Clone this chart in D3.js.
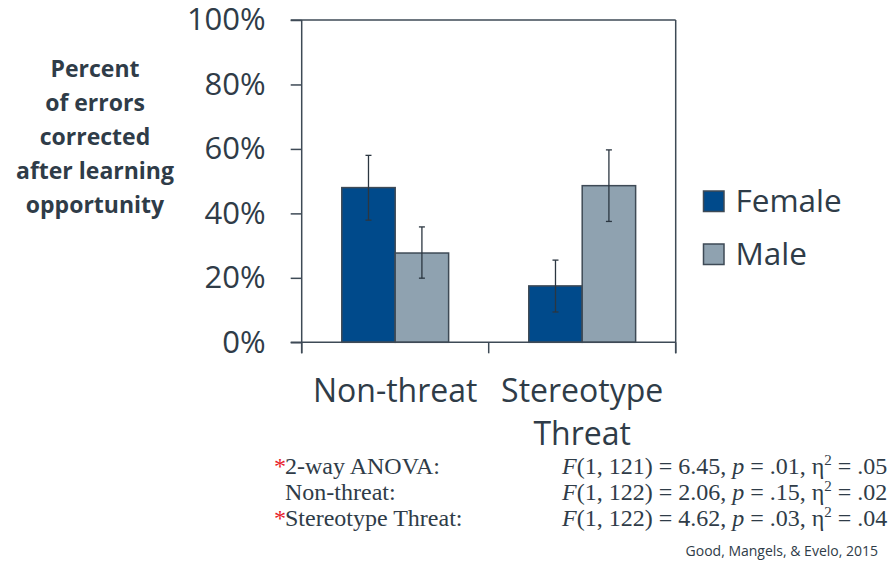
<!DOCTYPE html>
<html>
<head>
<meta charset="utf-8">
<script src="https://cdn.jsdelivr.net/npm/d3@7"></script>
<style>
  body { margin: 0; background: #fff; }
</style>
</head>
<body>
<div id="chart"></div>
<script>
// data
const conditions = ["Non-threat", "Stereotype Threat"];
const conditionLines = [["Non-threat"], ["Stereotype", "Threat"]];
const groups = ["Female", "Male"];
const female = [48.0, 17.5];
const male = [27.7, 48.6];
const femaleLow = [37.9, 9.4];
const femaleHigh = [58.0, 25.5];
const maleLow = [19.9, 37.5];
const maleHigh = [35.8, 59.7];
const yTicks = [0, 20, 40, 60, 80, 100];
const yTitle = ["Percent", "of errors", "corrected", "after learning", "opportunity"];
const statsLabels = [["*", "2-way ANOVA:"], ["", "Non-threat:"], ["*", "Stereotype Threat:"]];
const statsF = [["1, 121", "6.45", ".01", ".05"], ["1, 122", "2.06", ".15", ".02"], ["1, 122", "4.62", ".03", ".04"]];
const credit = "Good, Mangels, & Evelo, 2015";

const navy = "#004a8b";
const grey = "#8fa2b0";
const ink = "#2f3c48";
const axisCol = "#3e4a56";

const width = 893;
const height = 579;
const marginTop = 20;
const marginLeft = 301.7;
const plotRight = 675.7;
const plotBottom = 342.3;

const rows = conditions.map((c, i) => ({
  cond: c,
  bars: [
    {g: "Female", v: female[i], lo: femaleLow[i], hi: femaleHigh[i]},
    {g: "Male", v: male[i], lo: maleLow[i], hi: maleHigh[i]}
  ]
}));

const x0 = d3.scaleBand().domain(conditions).range([marginLeft, plotRight]).padding(0);
const x1 = d3.scaleBand().domain(groups).range([0, x0.bandwidth()]).paddingInner(0).paddingOuter(0.75);
const y = d3.scaleLinear().domain([0, 100]).range([plotBottom, marginTop]);
const color = d3.scaleOrdinal().domain(groups).range([navy, grey]);

const svg = d3.create("svg")
    .attr("width", width)
    .attr("height", height)
    .attr("viewBox", [0, 0, width, height]);

// frame: top and right edges
svg.append("line")
    .attr("x1", marginLeft - 11).attr("x2", plotRight)
    .attr("y1", y(100)).attr("y2", y(100))
    .attr("stroke", axisCol).attr("stroke-width", 1.5);
svg.append("line")
    .attr("x1", plotRight).attr("x2", plotRight)
    .attr("y1", y(100)).attr("y2", plotBottom + 11)
    .attr("stroke", axisCol).attr("stroke-width", 1.5);

// bars
const gBars = svg.append("g")
  .selectAll("g")
  .data(rows)
  .join("g")
    .attr("transform", d => `translate(${x0(d.cond)},0)`);

gBars.selectAll("rect")
  .data(d => d.bars)
  .join("rect")
    .attr("x", d => x1(d.g))
    .attr("y", d => y(d.v))
    .attr("width", x1.bandwidth())
    .attr("height", d => y(0) - y(d.v))
    .attr("fill", d => color(d.g))
    .attr("stroke", axisCol)
    .attr("stroke-width", 1.5);

// error bars
const err = gBars.selectAll("g.err")
  .data(d => d.bars)
  .join("g")
    .attr("class", "err")
    .attr("stroke", "#2b3641")
    .attr("stroke-width", 1.3);
err.append("line")
    .attr("x1", d => x1(d.g) + x1.bandwidth() / 2)
    .attr("x2", d => x1(d.g) + x1.bandwidth() / 2)
    .attr("y1", d => y(d.hi))
    .attr("y2", d => y(d.lo));
err.append("line")
    .attr("x1", d => x1(d.g) + x1.bandwidth() / 2 - 3)
    .attr("x2", d => x1(d.g) + x1.bandwidth() / 2 + 3)
    .attr("y1", d => y(d.hi)).attr("y2", d => y(d.hi));
err.append("line")
    .attr("x1", d => x1(d.g) + x1.bandwidth() / 2 - 3)
    .attr("x2", d => x1(d.g) + x1.bandwidth() / 2 + 3)
    .attr("y1", d => y(d.lo)).attr("y2", d => y(d.lo));

// y axis
const yAxis = svg.append("g")
    .attr("transform", `translate(${marginLeft},0)`)
    .call(d3.axisLeft(y).tickValues(yTicks).tickFormat(d => d + "%").tickSize(11).tickPadding(25));
yAxis.selectAll("path, line").attr("stroke", axisCol).attr("stroke-width", 1.5);
yAxis.select(".domain").attr("d", `M0,${y(100)}V${plotBottom + 11}`);
yAxis.selectAll("text")
    .attr("fill", ink)
    .style("font-family", "'Open Sans'")
    .style("font-size", "31px");

// x axis
const xAxis = svg.append("g")
    .attr("transform", `translate(0,${plotBottom})`);
xAxis.append("line")
    .attr("x1", marginLeft - 11).attr("x2", plotRight)
    .attr("stroke", axisCol).attr("stroke-width", 1.5);
xAxis.selectAll("line.tick")
  .data([...conditions.map(c => x0(c)), x0.range()[1]])
  .join("line")
    .attr("class", "tick")
    .attr("x1", d => d).attr("x2", d => d)
    .attr("y1", 0).attr("y2", 11)
    .attr("stroke", axisCol).attr("stroke-width", 1.5);
xAxis.selectAll("text")
  .data(conditions)
  .join("text")
    .attr("x", d => x0(d) + x0.bandwidth() / 2)
    .attr("y", 59.5)
    .attr("text-anchor", "middle")
    .attr("fill", ink)
    .style("font-family", "'Open Sans'")
    .style("font-size", "32px")
  .selectAll("tspan")
  .data((d, i) => conditionLines[i])
  .join("tspan")
    .attr("x", function() { return this.parentNode.getAttribute("x"); })
    .attr("dy", (d, i) => i === 0 ? 0 : 43)
    .text(d => d);

// y title
svg.append("text")
    .attr("x", 95)
    .attr("y", 76.5)
    .attr("text-anchor", "middle")
    .attr("fill", ink)
    .style("font-family", "'Open Sans'")
    .style("font-weight", "bold")
    .style("font-size", "23px")
  .selectAll("tspan")
  .data(yTitle)
  .join("tspan")
    .attr("x", 95)
    .attr("dy", (d, i) => i === 0 ? 0 : 34)
    .text(d => d);

// legend
const legend = svg.append("g")
  .selectAll("g")
  .data(groups)
  .join("g")
    .attr("transform", (d, i) => `translate(703.5,${191 + i * 53})`);
legend.append("rect")
    .attr("width", 20.5).attr("height", 20.5)
    .attr("fill", d => color(d))
    .attr("stroke", axisCol).attr("stroke-width", 1.5);
legend.append("text")
    .attr("x", 32)
    .attr("y", 20.5)
    .attr("fill", ink)
    .style("font-family", "'Open Sans'")
    .style("font-size", "31.5px")
    .text(d => d);

// statistics
const stats = svg.append("g")
    .style("font-family", "'Liberation Serif'")
    .style("font-size", "24px")
    .attr("fill", ink);
statsLabels.forEach((s, i) => {
  const t = stats.append("text").attr("x", 274).attr("y", 474 + i * 26);
  t.append("tspan").attr("fill", "#e8202a").text(s[0] || "\u2002");
  t.append("tspan").attr("x", 285).text(s[1]);
});
statsF.forEach((s, i) => {
  const t = stats.append("text").attr("x", 562).attr("y", 474 + i * 26);
  t.append("tspan").style("font-style", "italic").text("F");
  t.append("tspan").text(`(${s[0]}) = ${s[1]}, `);
  t.append("tspan").style("font-style", "italic").text("p");
  t.append("tspan").text(` = ${s[2]}, \u03b7`);
  t.append("tspan").attr("dy", -9).style("font-size", "15px").text("2");
  t.append("tspan").attr("dy", 9).text(` = ${s[3]}`);
});

// credit
svg.append("text")
    .attr("x", 878)
    .attr("y", 556)
    .attr("text-anchor", "end")
    .attr("fill", ink)
    .style("font-family", "'Open Sans'")
    .style("font-size", "14px")
    .text(credit);

document.querySelector("#chart").append(svg.node());
</script>
</body>
</html>
